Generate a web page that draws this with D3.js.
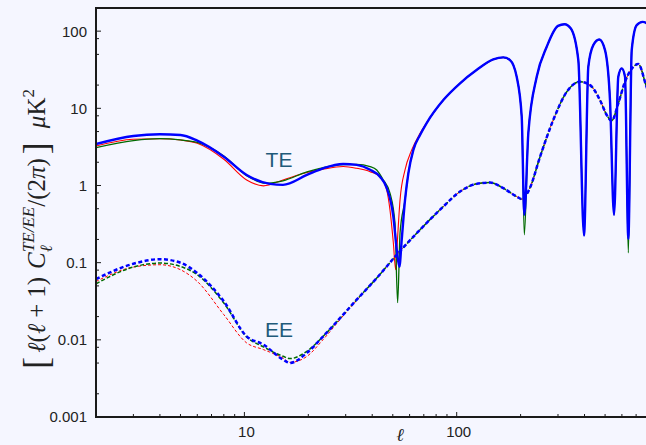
<!DOCTYPE html>
<html><head><meta charset="utf-8">
<script src="https://cdn.jsdelivr.net/npm/d3@7"></script>
<style>body{margin:0;background:#f5f6ff;}svg{display:block}</style>
</head><body>
<svg id="c" width="646" height="445"></svg>
<script>
// ---- data ----
const teEllBlue = [2,3,4,5,6,8,10.25,13.2,15.2,19.7,23.5,29.2,33.8,39.1,43.5,46.8,50.3,52.2,53.7,55.1,57.1,59.2,62.5,67.2,72.2,86.5,103.7,124,148.7,165.8,178.3,191.7,202.4,208.2,217.5,238.2,265.5,300,322,345,374,397.8,416.8,440,469.7,499.6,527.3,550.8,577,598.7,620.6,643.3,667.4,704.6,751.8,814];
const teValBlue = [3.45,4.38,4.61,4.52,3.81,2.36,1.37,1.05,1.02,1.37,1.67,1.90,1.85,1.6,1.3,0.93,0.396,0.147,0.0885,0.2,0.651,1.44,2.89,4.52,6.45,12.8,21.1,31.3,43.0,45.7,42.2,25.6,7.79,0.417,4.79,25.6,62.7,117,123,108,42.2,0.225,34.5,66,78,56.8,12.8,0.417,25.6,32.9,25.6,0.204,56.8,119.6,131.9,119.6];

const teEllRed = [2,3,4,5,6,8,10.25,12.3,15.2,19.7,23.5,29.2,33.8,39.1,43.5,46.8,48.5,50.3,51.6,52.5,54.1,57.1,61.4,67.2,72.2,86.5,103.7,124,148.7,165.8,178.3,191.7,202.4,208.2,217.5,238.2,265.5,300,322,345,374,397.8,416.8,440,469.7,499.6,527.3,550.8,577,598.7,620.6,643.3,667.4,704.6,751.8,814];
const teValRed = [3.25,3.97,4.04,3.89,3.53,2.19,1.18,0.99,1.18,1.47,1.63,1.76,1.67,1.51,1.30,0.877,0.483,0.181,0.081,0.181,0.651,1.59,2.89,4.75,6.5,12.8,21.1,31.3,43.0,45.7,42.2,25.6,7.79,0.417,4.79,25.6,62.7,117,123,108,42.2,0.225,34.5,66,78,56.8,12.8,0.417,25.6,32.9,25.6,0.204,56.8,119.6,131.9,119.6];

const teEllGreen = [2,3,4,5,6,8,10.25,12.6,15.2,19.7,23.5,29.2,33.8,39.1,42,45.1,48.5,51.2,52.7,54.1,57.1,59.2,62.5,67.2,72.2,86.5,103.7,124,148.7,165.8,178.3,191.7,202.4,208.2,217.5,238.2,265.5,300,322,345,374,397.8,416.8,440,469.7,499.6,527.3,550.8,577,598.7,620.6,643.3,667.4,704.6,751.8,814];
const teValGreen = [3.09,3.81,4.04,3.89,3.61,2.41,1.34,1.07,1.15,1.50,1.70,1.86,1.88,1.76,1.59,1.18,0.795,0.325,0.0303,0.244,0.651,1.44,2.89,4.52,6.45,12.8,21.1,31.3,43.0,45.7,42.2,25.6,7.79,0.23,4.79,25.6,62.7,117,123,108,42.2,0.225,34.5,66,78,56.8,12.8,0.417,25.6,32.9,25.6,0.134,56.8,119.6,131.9,119.6];

const eeEll = [2,3,4,5,6,8,10.25,12.3,15.2,16.4,19.7,23.5,29.2,33.8,42,52.2,67.2,86.5,103.7,124,143.6,165.8,191.7,203,221,247,285,330,381,424.6,473,508.8,537,577,620.6,679,717,779,830];
const eeValBlue  = [0.0614,0.0968,0.111,0.0997,0.0734,0.0315,0.0111,0.00867,0.00555,0.00502,0.00677,0.0111,0.0212,0.0331,0.0632,0.1265,0.267,0.533,0.834,1.05,1.09,0.923,0.718,0.665,0.923,2.36,7.06,16.4,22.1,20.0,12.8,8.19,6.91,11.6,22.1,34.5,37.4,20.0,12];
const eeValRed   = [0.057,0.0877,0.094,0.081,0.0571,0.0212,0.00912,0.00747,0.0058,0.0051,0.0061,0.0101,0.0205,0.0325,0.063,0.1265,0.267,0.533,0.834,1.05,1.09,0.923,0.718,0.665,0.923,2.36,7.06,16.4,22.1,20.0,12.8,8.19,6.91,11.6,22.1,34.5,37.4,20.0,12];
const eeValGreen = [0.0533,0.0877,0.0988,0.0893,0.0697,0.030,0.0109,0.0081,0.00612,0.00571,0.0071,0.0111,0.0212,0.0331,0.0632,0.1265,0.267,0.533,0.834,1.05,1.09,0.923,0.718,0.665,0.923,2.36,7.06,16.4,22.1,20.0,12.8,8.19,6.91,11.6,22.1,34.5,37.4,20.0,12];

const xTickLabels = [10, 100];
const yTickLabels = ["0.001","0.01","0.1","1","10","100"];

// ---- layout ----
const svg = d3.select("#c");
const L = 96, T = 8, B = 417, R = 646;
const x = d3.scaleLog().domain([2, 1000]).range([L, 669]);
const y = d3.scaleLog().domain([0.001, Math.pow(10, 2.3)]).range([B, T]);

svg.append("rect").attr("width",646).attr("height",445).attr("fill","#f5f6ff");
svg.append("defs").append("clipPath").attr("id","clip")
  .append("rect").attr("x",L).attr("y",T).attr("width",R-L+30).attr("height",B-T);

const line = d3.line().x(d=>x(d[0])).y(d=>y(d[1])).curve(d3.curveMonotoneX);
const zip = (a,b)=>a.map((v,i)=>[v,b[i]]);
const g = svg.append("g").attr("clip-path","url(#clip)");

const series = [
  {e:eeEll, v:eeValRed,   c:"#ff0000", w:1.0, dash:"3,2"},
  {e:eeEll, v:eeValGreen, c:"#006a00", w:1.5, dash:"4,2"},
  {e:teEllRed,   v:teValRed,   c:"#ff0000", w:1.1, dash:null},
  {e:teEllGreen, v:teValGreen, c:"#006a00", w:1.3, dash:null},
  {e:eeEll, v:eeValBlue,  c:"#0000ff", w:2.5, dash:"4,2.5"},
  {e:teEllBlue,  v:teValBlue,  c:"#0000ff", w:2.4, dash:null},
];
series.forEach(s=>{
  g.append("path").attr("d", line(zip(s.e,s.v))).attr("fill","none")
   .attr("stroke",s.c).attr("stroke-width",s.w)
   .attr("stroke-dasharray", s.dash).attr("stroke-linejoin","round");
});

// ---- axes ----
const ax = svg.append("g").attr("stroke","#1a1a1a").attr("stroke-width",2).attr("fill","none");
ax.append("line").attr("x1",L).attr("x2",R).attr("y1",B).attr("y2",B);
ax.append("line").attr("x1",L).attr("x2",R).attr("y1",T).attr("y2",T);
ax.append("line").attr("x1",L).attr("x2",L).attr("y1",T-1).attr("y2",B+1);

const xt = [];
[1,10,100].forEach(dec=>{ for(let k=1;k<10;k++){ const v=k*dec; if(v>=2 && x(v)<R) xt.push({v, major:k===1}); } });
svg.append("g").selectAll("line").data(xt).join("line")
  .attr("x1",d=>x(d.v)).attr("x2",d=>x(d.v)).attr("y1",B).attr("y2",d=>B-(d.major?5:3))
  .attr("stroke","#1a1a1a").attr("stroke-width",1);

const yt = [];
[0.001,0.01,0.1,1,10,100].forEach(dec=>{ [1,2,5,8].forEach(k=>{ const v=k*dec; if(y(v)>=T) yt.push({v, major:k===1}); }); });
svg.append("g").selectAll("line").data(yt).join("line")
  .attr("x1",L).attr("x2",d=>L+(d.major?5:3)).attr("y1",d=>y(d.v)).attr("y2",d=>y(d.v))
  .attr("stroke","#1a1a1a").attr("stroke-width",1);

const tf = "'Liberation Sans', Arial, sans-serif";
svg.append("g").selectAll("text").data(yTickLabels).join("text")
  .attr("x",L-9).attr("y",d=>y(+d)).attr("dy","0.36em").attr("text-anchor","end")
  .attr("font-family",tf).attr("font-size",15).attr("fill","#222").text(d=>d);
svg.append("g").selectAll("text").data(xTickLabels).join("text")
  .attr("x",d=>x(d)+2).attr("y",436.5).attr("text-anchor","middle")
  .attr("font-family",tf).attr("font-size",15).attr("fill","#222").text(d=>d);

// x label
svg.append("text").attr("x",400).attr("y",441).attr("text-anchor","middle")
  .attr("font-family","'Liberation Serif', serif").attr("font-style","italic")
  .attr("font-size",18).attr("fill","#222").text("ℓ");

// y label
const yl = svg.append("text").attr("transform","translate(45,229) rotate(-90)")
  .attr("text-anchor","middle").attr("font-family","'Liberation Serif', serif")
  .attr("font-size",25).attr("fill","#222");
const add = (t, o={}) => {
  const s = yl.append("tspan").text(t);
  if(o.i) s.attr("font-style","italic");
  if(o.s) s.attr("font-size",o.s);
  if(o.dy) s.attr("dy",o.dy);
  if(o.dx) s.attr("dx",o.dx);
  return s;
};
add("[",{s:36,dy:3}); add("ℓ",{i:1,dx:4,dy:-3}); add("("); add("ℓ",{i:1});
add("+",{dx:6}); add("1",{dx:6}); add(")");
add("C",{i:1,dx:8}); add("ℓ",{i:1,s:17,dy:7}); add("TE/EE",{i:1,s:17,dx:-7,dy:-18});
add("/(2",{dy:11}); add("π",{i:1}); add(")"); add("]",{s:36,dx:4,dy:3});
add("μ",{i:1,dx:14,dy:-3}); add("K"); add("2",{s:17,dy:-11});

// annotations
const lf = "'Liberation Sans', Arial, sans-serif";
svg.append("text").attr("x",279).attr("y",167).attr("text-anchor","middle")
  .attr("font-family",lf).attr("font-size",21).attr("fill","#1f5a7a").text("TE");
svg.append("text").attr("x",279).attr("y",337).attr("text-anchor","middle")
  .attr("font-family",lf).attr("font-size",21).attr("fill","#1f5a7a").text("EE");
</script>
</body></html>
